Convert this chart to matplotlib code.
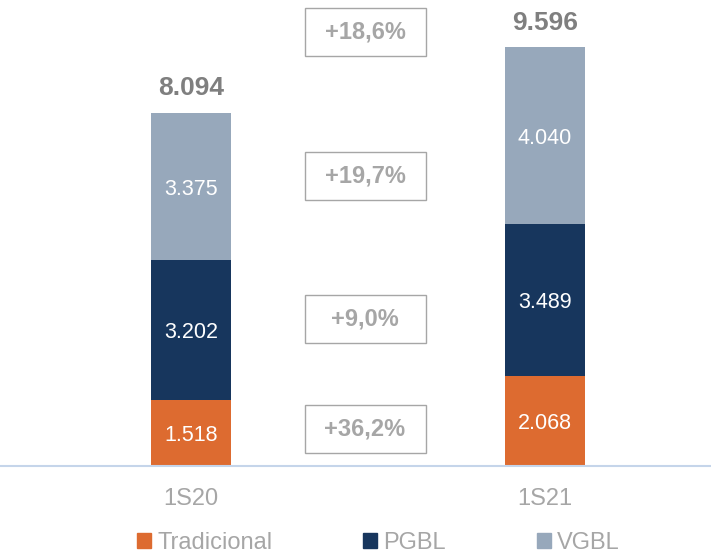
import matplotlib.pyplot as plt
from matplotlib.patches import Rectangle
import numpy as np

plt.rcParams['font.family'] = ['Liberation Sans', 'DejaVu Sans']

categories = ['1S20', '1S21']
series = ['Tradicional', 'PGBL', 'VGBL']
values = {
    'Tradicional': [1518, 2068],
    'PGBL': [3202, 3489],
    'VGBL': [3375, 4040],
}
seg_labels = {
    'Tradicional': ['1.518', '2.068'],
    'PGBL': ['3.202', '3.489'],
    'VGBL': ['3.375', '4.040'],
}
totals = ['8.094', '9.596']
growth = ['+18,6%', '+19,7%', '+9,0%', '+36,2%']
colors = {'Tradicional': '#DD6B30', 'PGBL': '#17365D', 'VGBL': '#97A8BB'}
grey = '#A6A6A6'

W, H = 711, 554
fig = plt.figure(figsize=(W / 100, H / 100), dpi=100)
ax = fig.add_axes([0, (H - 466) / H, 1, 466 / H])

x = np.arange(len(categories))
bottom = np.zeros(len(categories))
for s in series:
    v = np.array(values[s], dtype=float)
    ax.bar(x, v, width=0.226, bottom=bottom, color=colors[s], label=s)
    for i in range(len(x)):
        ax.annotate(seg_labels[s][i], (x[i], bottom[i] + v[i] / 2), xytext=(0, -2),
                    textcoords='offset points', ha='center', va='center',
                    color='white', fontsize=15.5)
    bottom += v

for i in range(len(x)):
    ax.annotate(totals[i], (x[i], bottom[i]), xytext=(0, 9), textcoords='offset points',
                ha='center', va='bottom', fontsize=19, fontweight='bold', color='#7F7F7F')

ax.set_xlim(-191 / 354, (W - 191) / 354)
ax.set_ylim(0, 10685)
ax.set_xticks(x)
ax.set_xticklabels(categories, fontsize=17, color=grey)
ax.tick_params(axis='x', length=0, pad=16)
ax.set_yticks([])
for sp in ['top', 'left', 'right']:
    ax.spines[sp].set_visible(False)
ax.spines['bottom'].set_color('#C5D5EA')
ax.spines['bottom'].set_linewidth(1.5)

# growth boxes between the bars
box_y = [32, 176, 319, 429]
for txt, py in zip(growth, box_y):
    fig.patches.append(Rectangle(((365 - 60) / W, 1 - (py + 24) / H), 121 / W, 48 / H,
                                 transform=fig.transFigure, facecolor='white',
                                 edgecolor=grey, lw=1))
    fig.text(365 / W, 1 - py / H, txt, ha='center', va='center', fontsize=17,
             fontweight='bold', color=grey)

handles = [Rectangle((0, 0), 1, 1, color=colors[s]) for s in series]
leg = fig.legend(handles, series, loc='center', bbox_to_anchor=(0.532, 1 - 543 / H),
                 ncol=3, frameon=False, fontsize=17, handlelength=0.6, handleheight=0.6,
                 handletextpad=0.25, columnspacing=3.85, borderpad=0)
for t in leg.get_texts():
    t.set_color(grey)

fig.savefig('out.png', dpi=100)
